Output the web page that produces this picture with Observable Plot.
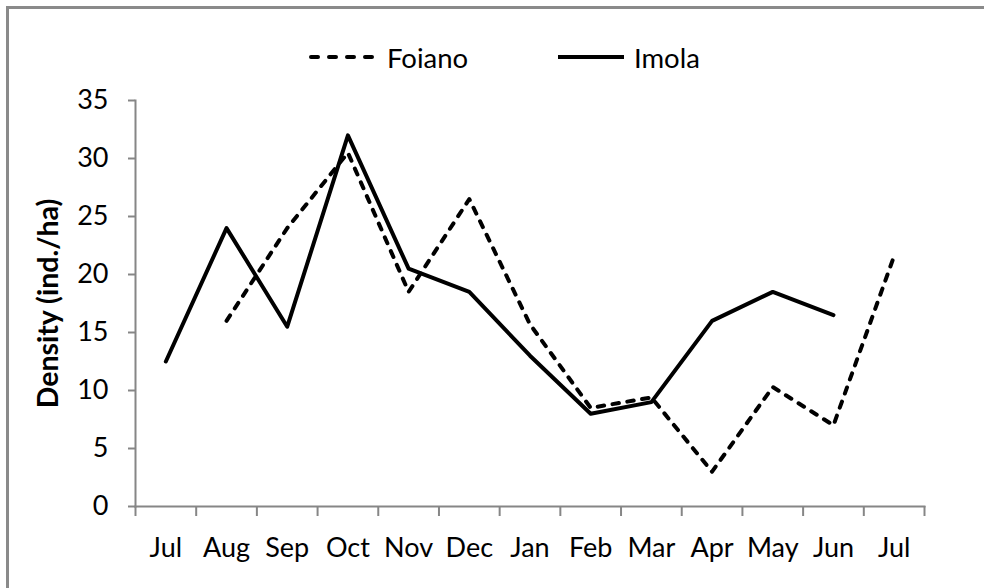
<!DOCTYPE html>
<html>
<head>
<meta charset="utf-8">
<script src="https://cdn.jsdelivr.net/npm/d3@7"></script>
<script src="https://cdn.jsdelivr.net/npm/@observablehq/plot@0.6"></script>
<style>
  html, body { margin: 0; padding: 0; background: #fff; overflow: hidden; width: 984px; height: 588px; }
  #wrap { position: relative; width: 984px; height: 588px; overflow: hidden; font-family: Lato, "Noto Sans", sans-serif; }
  .bline { position: absolute; background: #8a8a8a; }
  #btop { left: 6px; top: 6px; width: 978px; height: 3px; }
  #bleft { left: 6px; top: 6px; width: 3px; height: 582px; }
  #legend { position: absolute; left: 0; top: 0; width: 984px; height: 80px; }
  .item { position: absolute; top: 38px; height: 38px; display: flex; align-items: center; font-size: 27.5px; color: #000; }
  #chart { position: absolute; left: 0; top: 80px; width: 984px; height: 508px; }
  g[aria-label="y-axis label"] text { font-weight: bold; font-size: 28.5px; }
</style>
</head>
<body>
<div id="wrap">
  <div class="bline" id="btop"></div>
  <div class="bline" id="bleft"></div>
  <div id="legend"></div>
  <div id="chart"></div>
</div>
<script>
// ---- data ----
const months = ["Jul","Aug","Sep","Oct","Nov","Dec","Jan","Feb","Mar","Apr","May","Jun","Jul"];
const foiano = [null, 16, 24, 30.5, 18.5, 26.5, 15.7, 8.5, 9.4, 3, 10.3, 7, 21.6];
const imola  = [12.5, 24, 15.5, 32, 20.5, 18.5, 13, 8, 9, 16, 18.5, 16.5, null];
const yTicks = [0, 5, 10, 15, 20, 25, 30, 35];
const seriesNames = ["Foiano", "Imola"];

const rows = (vals) => vals.map((v, i) => ({i, v}));
const gray = "#868686";
const dash = "6.5,8.5";

const plot = Plot.plot({
  width: 984,
  height: 508,
  marginLeft: 135,
  marginRight: 60,
  marginTop: 20,
  marginBottom: 82,
  style: {fontFamily: "Lato, 'Noto Sans', sans-serif", fontSize: "27px", color: "#000", background: "transparent", overflow: "visible"},
  x: {type: "linear", domain: [-0.5, months.length - 0.5]},
  y: {domain: [0, 35]},
  marks: [
    Plot.frame({anchor: "left", stroke: gray, strokeWidth: 2}),
    Plot.frame({anchor: "bottom", stroke: gray, strokeWidth: 2}),
    Plot.axisY({ticks: yTicks, tickSize: 7, tickPadding: 20, stroke: gray, strokeWidth: 2, fill: "#000", fontSize: 27,
      label: "Density (ind./ha)", labelAnchor: "center", labelArrow: "none", labelOffset: 98}),
    Plot.axisX({ticks: d3.range(-0.5, months.length, 1), tickSize: 10, tickFormat: () => "", stroke: gray, strokeWidth: 2, label: null}),
    Plot.axisX({ticks: d3.range(0, months.length), tickSize: 0, tickPadding: 31, tickFormat: (i) => months[i], fill: "#000", fontSize: 27, label: null}),
    Plot.line(rows(foiano), {x: "i", y: "v", stroke: "#000", strokeWidth: 4, strokeDasharray: dash, strokeLinecap: "round", strokeLinejoin: "round"}),
    Plot.line(rows(imola), {x: "i", y: "v", stroke: "#000", strokeWidth: 4, strokeLinejoin: "round"})
  ]
});
document.getElementById("chart").appendChild(plot);

// ---- legend ----
const legend = document.getElementById("legend");
const legendDefs = [
  {name: seriesNames[0], dash: "7,11", left: 309},
  {name: seriesNames[1], dash: null, left: 556}
];
for (const d of legendDefs) {
  const item = document.createElement("div");
  item.className = "item";
  item.style.left = d.left + "px";
  item.innerHTML = `<svg width="70" height="10" style="margin-right:8px"><line x1="2" y1="5" x2="68" y2="5" stroke="#000" stroke-width="4" ${d.dash ? `stroke-dasharray="${d.dash}" stroke-linecap="round"` : ""}/></svg><span>${d.name}</span>`;
  legend.appendChild(item);
}
</script>
</body>
</html>
